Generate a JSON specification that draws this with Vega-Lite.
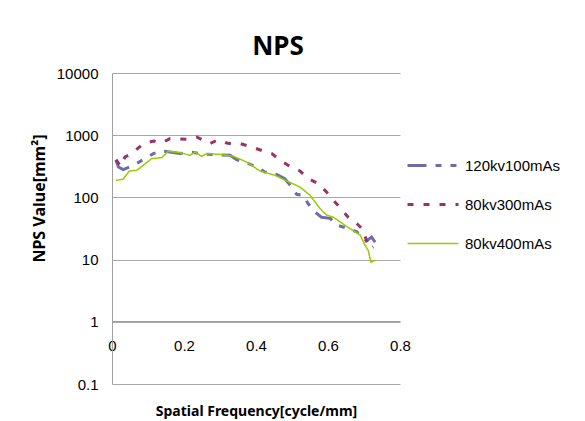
{
  "$schema": "https://vega.github.io/schema/vega-lite/v6.json",
  "autosize": "none",
  "width": 288,
  "height": 311,
  "padding": {"left": 112, "top": 73, "right": 185, "bottom": 37},
  "background": "white",
  "config": {"view": {"stroke": null}},
  "title": {"text": "NPS", "font": "Noto Sans", "fontSize": 26, "fontWeight": "bold", "color": "#000000", "anchor": "middle", "frame": "group", "dx": 22, "offset": 6},
  "data": {"values": [
    {"series": "120kv100mAs", "x": 0.011, "y": 395},
    {"series": "120kv100mAs", "x": 0.018, "y": 308},
    {"series": "120kv100mAs", "x": 0.031, "y": 280},
    {"series": "120kv100mAs", "x": 0.059, "y": 328},
    {"series": "120kv100mAs", "x": 0.087, "y": 405},
    {"series": "120kv100mAs", "x": 0.115, "y": 506},
    {"series": "120kv100mAs", "x": 0.138, "y": 557},
    {"series": "120kv100mAs", "x": 0.161, "y": 537},
    {"series": "120kv100mAs", "x": 0.189, "y": 506},
    {"series": "120kv100mAs", "x": 0.217, "y": 537},
    {"series": "120kv100mAs", "x": 0.244, "y": 506},
    {"series": "120kv100mAs", "x": 0.281, "y": 487},
    {"series": "120kv100mAs", "x": 0.328, "y": 475},
    {"series": "120kv100mAs", "x": 0.346, "y": 405},
    {"series": "120kv100mAs", "x": 0.374, "y": 357},
    {"series": "120kv100mAs", "x": 0.402, "y": 308},
    {"series": "120kv100mAs", "x": 0.425, "y": 256},
    {"series": "120kv100mAs", "x": 0.457, "y": 235},
    {"series": "120kv100mAs", "x": 0.48, "y": 200},
    {"series": "120kv100mAs", "x": 0.499, "y": 147},
    {"series": "120kv100mAs", "x": 0.513, "y": 112},
    {"series": "120kv100mAs", "x": 0.531, "y": 108},
    {"series": "120kv100mAs", "x": 0.545, "y": 79},
    {"series": "120kv100mAs", "x": 0.564, "y": 58},
    {"series": "120kv100mAs", "x": 0.582, "y": 48},
    {"series": "120kv100mAs", "x": 0.606, "y": 46},
    {"series": "120kv100mAs", "x": 0.624, "y": 36},
    {"series": "120kv100mAs", "x": 0.652, "y": 32},
    {"series": "120kv100mAs", "x": 0.68, "y": 28},
    {"series": "120kv100mAs", "x": 0.707, "y": 20},
    {"series": "120kv100mAs", "x": 0.721, "y": 23},
    {"series": "120kv100mAs", "x": 0.731, "y": 19},
    {"series": "80kv300mAs", "x": 0.011, "y": 405},
    {"series": "80kv300mAs", "x": 0.024, "y": 316},
    {"series": "80kv300mAs", "x": 0.036, "y": 446},
    {"series": "80kv300mAs", "x": 0.055, "y": 506},
    {"series": "80kv300mAs", "x": 0.087, "y": 733},
    {"series": "80kv300mAs", "x": 0.115, "y": 807},
    {"series": "80kv300mAs", "x": 0.138, "y": 750},
    {"series": "80kv300mAs", "x": 0.161, "y": 881},
    {"series": "80kv300mAs", "x": 0.207, "y": 859},
    {"series": "80kv300mAs", "x": 0.235, "y": 936},
    {"series": "80kv300mAs", "x": 0.272, "y": 733},
    {"series": "80kv300mAs", "x": 0.295, "y": 849},
    {"series": "80kv300mAs", "x": 0.319, "y": 750},
    {"series": "80kv300mAs", "x": 0.337, "y": 714},
    {"series": "80kv300mAs", "x": 0.356, "y": 733},
    {"series": "80kv300mAs", "x": 0.393, "y": 631},
    {"series": "80kv300mAs", "x": 0.42, "y": 557},
    {"series": "80kv300mAs", "x": 0.444, "y": 506},
    {"series": "80kv300mAs", "x": 0.467, "y": 395},
    {"series": "80kv300mAs", "x": 0.494, "y": 316},
    {"series": "80kv300mAs", "x": 0.522, "y": 266},
    {"series": "80kv300mAs", "x": 0.545, "y": 200},
    {"series": "80kv300mAs", "x": 0.573, "y": 167},
    {"series": "80kv300mAs", "x": 0.596, "y": 122},
    {"series": "80kv300mAs", "x": 0.615, "y": 90},
    {"series": "80kv300mAs", "x": 0.633, "y": 69},
    {"series": "80kv300mAs", "x": 0.656, "y": 48},
    {"series": "80kv300mAs", "x": 0.68, "y": 38},
    {"series": "80kv300mAs", "x": 0.698, "y": 30},
    {"series": "80kv300mAs", "x": 0.707, "y": 20},
    {"series": "80kv300mAs", "x": 0.717, "y": 15},
    {"series": "80kv300mAs", "x": 0.726, "y": 16},
    {"series": "80kv400mAs", "x": 0.011, "y": 188},
    {"series": "80kv400mAs", "x": 0.031, "y": 196},
    {"series": "80kv400mAs", "x": 0.048, "y": 266},
    {"series": "80kv400mAs", "x": 0.069, "y": 273},
    {"series": "80kv400mAs", "x": 0.087, "y": 328},
    {"series": "80kv400mAs", "x": 0.11, "y": 420},
    {"series": "80kv400mAs", "x": 0.138, "y": 436},
    {"series": "80kv400mAs", "x": 0.156, "y": 551},
    {"series": "80kv400mAs", "x": 0.189, "y": 525},
    {"series": "80kv400mAs", "x": 0.217, "y": 475},
    {"series": "80kv400mAs", "x": 0.231, "y": 537},
    {"series": "80kv400mAs", "x": 0.249, "y": 458},
    {"series": "80kv400mAs", "x": 0.263, "y": 506},
    {"series": "80kv400mAs", "x": 0.3, "y": 493},
    {"series": "80kv400mAs", "x": 0.337, "y": 458},
    {"series": "80kv400mAs", "x": 0.374, "y": 371},
    {"series": "80kv400mAs", "x": 0.411, "y": 266},
    {"series": "80kv400mAs", "x": 0.453, "y": 226},
    {"series": "80kv400mAs", "x": 0.485, "y": 184},
    {"series": "80kv400mAs", "x": 0.522, "y": 147},
    {"series": "80kv400mAs", "x": 0.55, "y": 108},
    {"series": "80kv400mAs", "x": 0.578, "y": 66},
    {"series": "80kv400mAs", "x": 0.596, "y": 52},
    {"series": "80kv400mAs", "x": 0.615, "y": 48},
    {"series": "80kv400mAs", "x": 0.652, "y": 34},
    {"series": "80kv400mAs", "x": 0.689, "y": 25},
    {"series": "80kv400mAs", "x": 0.703, "y": 17},
    {"series": "80kv400mAs", "x": 0.712, "y": 14},
    {"series": "80kv400mAs", "x": 0.719, "y": 9.1},
    {"series": "80kv400mAs", "x": 0.731, "y": 9.75}
  ]},
  "mark": {"type": "line", "interpolate": "linear"},
  "encoding": {
    "x": {
      "field": "x", "type": "quantitative",
      "scale": {"domain": [0, 0.8], "nice": false, "zero": false},
      "axis": {
        "title": "Spatial Frequency[cycle/mm]",
        "values": [0, 0.2, 0.4, 0.6, 0.8],
        "format": "~g",
        "grid": false, "ticks": false, "tickSize": 0,
        "offset": -63,
        "domainColor": "#a0a0a0",
        "labelFont": "Liberation Sans", "labelFontSize": 15, "labelColor": "#000000",
        "labelPadding": 17, "labelFlush": false, "labelOverlap": false,
        "titleFont": "Noto Sans", "titleFontSize": 14, "titleFontWeight": "bold", "titleColor": "#000000",
        "titleBaseline": "middle", "titleY": 90
      }
    },
    "y": {
      "field": "y", "type": "quantitative",
      "scale": {"type": "log", "domain": [0.1, 10000], "nice": false},
      "axis": {
        "title": "NPS  Value[mm²]",
        "values": [0.1, 1, 10, 100, 1000, 10000],
        "format": "~g",
        "grid": true, "gridColor": "#a8a8a8", "gridWidth": 1,
        "ticks": false, "tickSize": 0,
        "domainColor": "#a0a0a0",
        "labelFont": "Liberation Sans", "labelFontSize": 15, "labelColor": "#000000",
        "labelPadding": 14, "labelOverlap": false,
        "titleFont": "Noto Sans", "titleFontSize": 16, "titleFontWeight": "bold", "titleColor": "#000000",
        "titleX": -73, "titleY": 125, "titleBaseline": "middle", "titleAlign": "center", "titleAngle": -90
      }
    },
    "color": {
      "field": "series", "type": "nominal",
      "scale": {"domain": ["120kv100mAs", "80kv300mAs", "80kv400mAs"], "range": ["#6C6CA8", "#993366", "#99CC00"]},
      "legend": {
        "title": null, "orient": "none", "legendX": 294, "legendY": 85,
        "symbolType": "stroke", "symbolSize": 2601,
        "clipHeight": 15, "rowPadding": 23, "padding": 0, "labelOffset": 5,
        "labelFont": "Liberation Sans", "labelFontSize": 15, "labelColor": "#000000"
      }
    },
    "strokeDash": {
      "field": "series", "type": "nominal",
      "scale": {"domain": ["120kv100mAs", "80kv300mAs", "80kv400mAs"], "range": [[19, 9, 6, 9, 6, 9], [6, 10], [1, 0]]}
    },
    "strokeWidth": {
      "field": "series", "type": "nominal",
      "scale": {"type": "ordinal", "domain": ["120kv100mAs", "80kv300mAs", "80kv400mAs"], "range": [3, 3, 1.5]}
    }
  }
}
